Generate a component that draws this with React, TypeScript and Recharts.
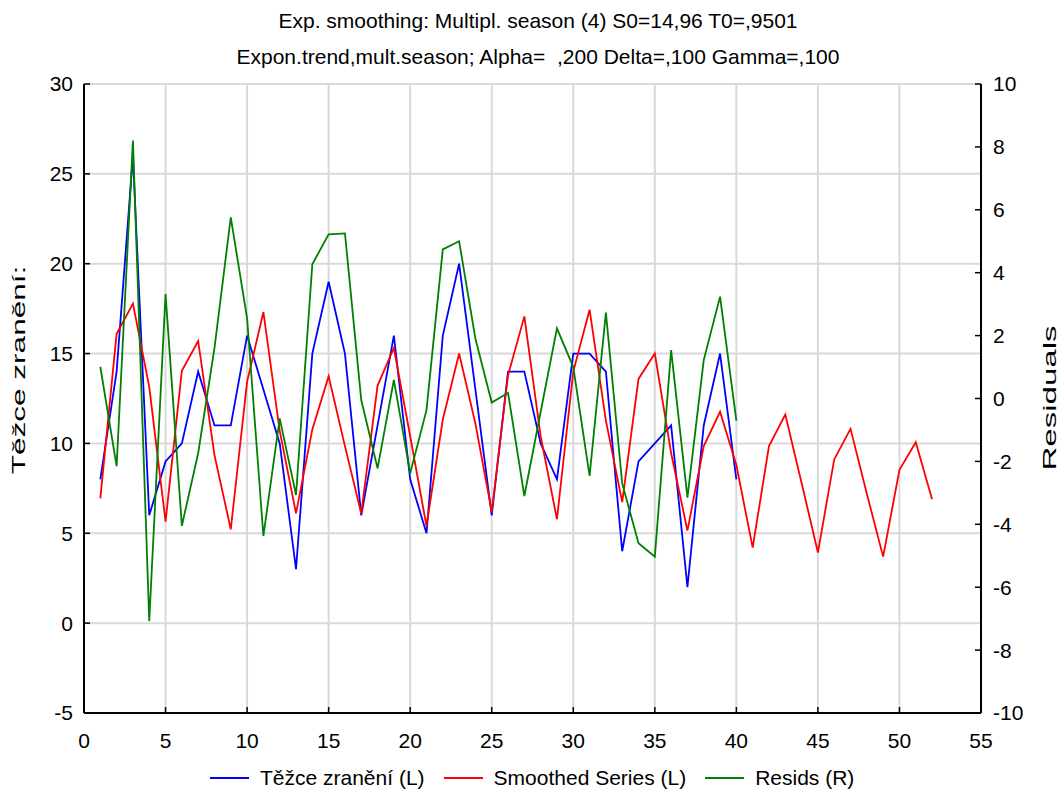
import React from 'react';
import { LineChart, Line, XAxis, YAxis, CartesianGrid } from 'recharts';

const periods = [
  1, 2, 3, 4, 5, 6, 7, 8, 9, 10, 11, 12, 13, 14, 15, 16, 17, 18, 19, 20,
  21, 22, 23, 24, 25, 26, 27, 28, 29, 30, 31, 32, 33, 34, 35, 36, 37, 38, 39, 40,
  41, 42, 43, 44, 45, 46, 47, 48, 49, 50, 51, 52,
];

const injured = [
  8, 14, 26, 6, 9, 10, 14, 11, 11, 16, 13, 10, 3, 15, 19, 15, 6, 11, 16, 8,
  5, 16, 20, 13, 6, 14, 14, 10, 8, 15, 15, 14, 4, 9, 10, 11, 2, 11, 15, 8,
];

const smoothed = [
  6.94, 16.1, 17.78, 13.15, 5.65, 14.04, 15.7, 9.35, 5.22, 13.43,
  17.31, 10.7, 6.11, 10.78, 13.74, 9.85, 6.1, 13.22, 15.31, 10.4,
  5.4, 11.33, 15.0, 11.1, 6.2, 13.8, 17.07, 10.4, 5.78, 14.0,
  17.44, 11.27, 6.74, 13.59, 15.0, 9.46, 5.15, 9.85, 11.76, 8.8,
  4.2, 9.85, 11.61, 7.8, 3.93, 9.11, 10.81, 7.2, 3.7, 8.53,
  10.07, 6.9,
];

const resids = [
  1.01, -2.15, 8.2, -7.08, 3.32, -4.05, -1.74, 1.6, 5.76, 2.55,
  -4.37, -0.63, -3.07, 4.27, 5.22, 5.25, -0.05, -2.22, 0.59, -2.38,
  -0.37, 4.74, 5.0, 1.9, -0.13, 0.18, -3.1, -0.42, 2.23, 1.0,
  -2.46, 2.73, -2.7, -4.6, -5.03, 1.54, -3.15, 1.22, 3.24, -0.7,
];

const xTicks = [0, 5, 10, 15, 20, 25, 30, 35, 40, 45, 50, 55];
const leftTicks = [-5, 0, 5, 10, 15, 20, 25, 30];
const rightTicks = [-10, -8, -6, -4, -2, 0, 2, 4, 6, 8, 10];

const titleLine1 = 'Exp. smoothing: Multipl. season (4) S0=14,96 T0=,9501';
const titleLine2 = 'Expon.trend,mult.season; Alpha=\u00a0\u00a0,200 Delta=,100 Gamma=,100';
const leftAxisTitle = 'Těžce zranění:';
const rightAxisTitle = 'Residuals';

const seriesNames = ['Těžce zranění (L)', 'Smoothed Series (L)', 'Resids (R)'];
const seriesColors = ['#0000ff', '#ff0000', '#008000'];

const data = periods.map((t, i) => ({
  t,
  injured: injured[i],
  smoothed: smoothed[i],
  resids: resids[i],
}));

const FONT = '"Liberation Sans", Arial, Helvetica, sans-serif';
const tickStyle = { fill: '#000', fontSize: 21, fontFamily: FONT };

export default function App() {
  return (
    <div
      style={{
        position: 'absolute',
        left: 0,
        top: 0,
        width: 1063,
        height: 793,
        background: '#fff',
        fontFamily: FONT,
        color: '#000',
      }}
    >
      <div
        style={{
          position: 'absolute',
          left: 0,
          width: 1076,
          top: 3,
          textAlign: 'center',
          fontSize: 21,
          lineHeight: '36px',
          whiteSpace: 'pre',
        }}
      >
        <div>{titleLine1}</div>
        <div>{titleLine2}</div>
      </div>

      <LineChart
        width={1063}
        height={793}
        data={data}
        margin={{ top: 84, right: 22, bottom: 40, left: 24 }}
      >
        <CartesianGrid yAxisId="left" stroke="#d9d9d9" strokeWidth={2} />
        <XAxis
          dataKey="t"
          type="number"
          domain={[0, 55]}
          ticks={xTicks}
          interval={0}
          height={40}
          axisLine={{ stroke: '#000', strokeWidth: 2 }}
          tickLine={{ stroke: '#000', strokeWidth: 1.5 }}
          tickSize={-6}
          tickMargin={26}
          tick={tickStyle}
          allowDataOverflow
        />
        <XAxis
          xAxisId="top"
          orientation="top"
          dataKey="t"
          type="number"
          domain={[0, 55]}
          ticks={xTicks}
          interval={0}
          height={0}
          axisLine={{ stroke: '#000', strokeWidth: 2 }}
          tickLine={{ stroke: '#000', strokeWidth: 1.5 }}
          tickSize={-6}
          tick={false}
          allowDataOverflow
        />
        <YAxis
          yAxisId="left"
          type="number"
          domain={[-5, 30]}
          ticks={leftTicks}
          interval={0}
          width={60}
          axisLine={{ stroke: '#000', strokeWidth: 2 }}
          tickLine={{ stroke: '#000', strokeWidth: 1.5 }}
          tickSize={-6}
          tickMargin={17}
          tick={tickStyle}
          allowDataOverflow
        />
        <YAxis
          yAxisId="right"
          orientation="right"
          type="number"
          domain={[-10, 10]}
          ticks={rightTicks}
          interval={0}
          width={60}
          axisLine={{ stroke: '#000', strokeWidth: 2 }}
          tickLine={{ stroke: '#000', strokeWidth: 1.5 }}
          tickSize={-6}
          tickMargin={18}
          tick={tickStyle}
          allowDataOverflow
        />
        <Line
          yAxisId="left"
          dataKey="injured"
          name={seriesNames[0]}
          stroke={seriesColors[0]}
          strokeWidth={1.8}
          dot={false}
          activeDot={false}
          isAnimationActive={false}
          type="linear"
        />
        <Line
          yAxisId="left"
          dataKey="smoothed"
          name={seriesNames[1]}
          stroke={seriesColors[1]}
          strokeWidth={1.8}
          dot={false}
          activeDot={false}
          isAnimationActive={false}
          type="linear"
        />
        <Line
          yAxisId="right"
          dataKey="resids"
          name={seriesNames[2]}
          stroke={seriesColors[2]}
          strokeWidth={1.8}
          dot={false}
          activeDot={false}
          isAnimationActive={false}
          type="linear"
        />
      </LineChart>

      <div
        style={{
          position: 'absolute',
          left: 19,
          top: 370,
          transform: 'translate(-50%, -50%) rotate(-90deg)',
          fontSize: 19,
          whiteSpace: 'nowrap',
        }}
      >
        <span style={{ display: 'inline-block', transform: 'scaleX(1.66)' }}>{leftAxisTitle}</span>
      </div>
      <div
        style={{
          position: 'absolute',
          left: 1050,
          top: 398,
          transform: 'translate(-50%, -50%) rotate(-90deg)',
          fontSize: 19,
          whiteSpace: 'nowrap',
        }}
      >
        <span style={{ display: 'inline-block', transform: 'scaleX(1.74)' }}>{rightAxisTitle}</span>
      </div>

      <div
        style={{
          position: 'absolute',
          left: 210,
          top: 766,
          display: 'flex',
          alignItems: 'center',
          fontSize: 21,
          whiteSpace: 'nowrap',
        }}
      >
        {seriesNames.map((name, i) => (
          <div key={name} style={{ display: 'flex', alignItems: 'center', marginRight: 19 }}>
            <div style={{ width: 39, height: 2, background: seriesColors[i], marginRight: 11 }} />
            <span>{name}</span>
          </div>
        ))}
      </div>
    </div>
  );
}
